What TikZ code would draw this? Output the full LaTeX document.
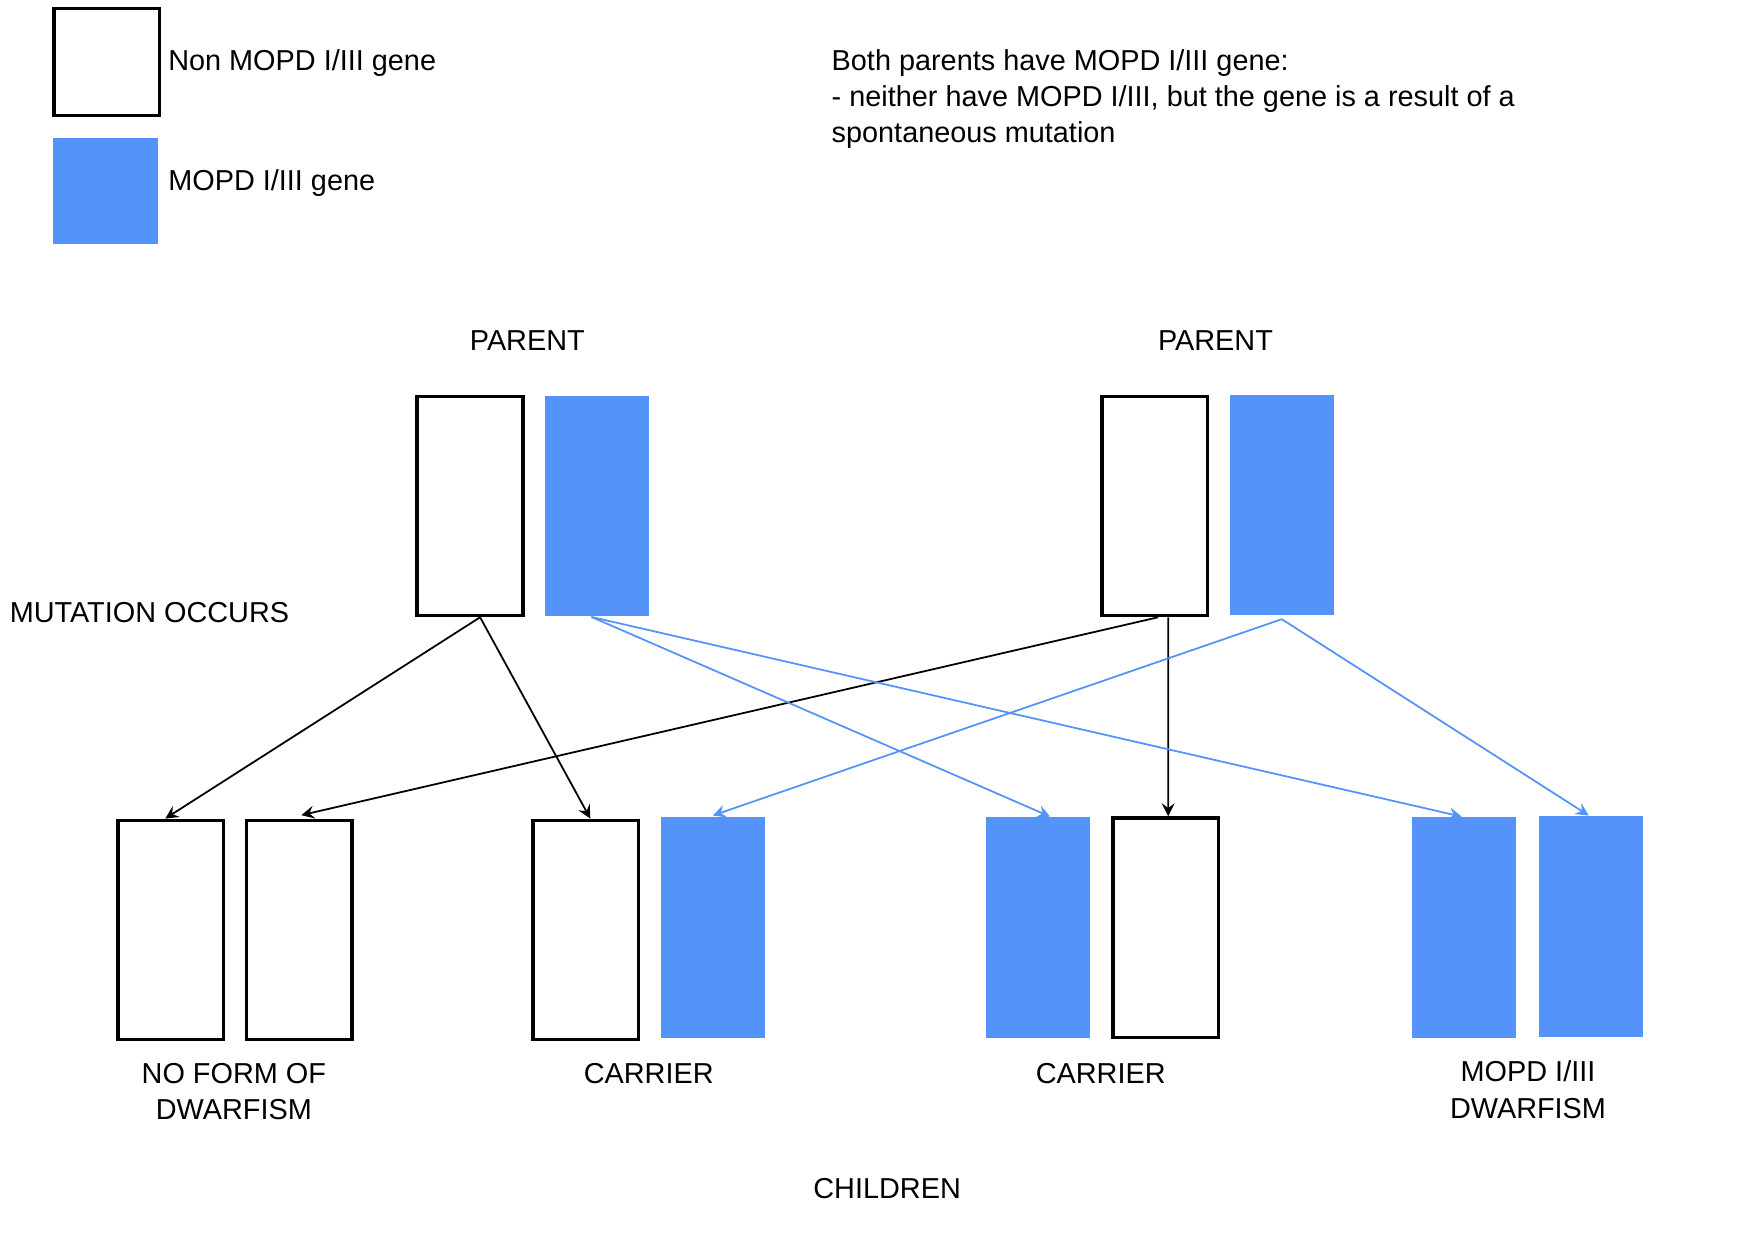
\documentclass[tikz,border=0pt]{standalone}
\usepackage{fontspec}
\setmainfont{Liberation Sans}
\definecolor{genblue}{RGB}{84,148,250}
\begin{document}
\begin{tikzpicture}[x=0.1mm,y=-0.1mm,font=\fontsize{7.3}{9.2}\selectfont,
    plain/.style={draw, line width=0.85pt, minimum width=9.4mm, minimum height=19.5mm, inner sep=0},
    gene/.style={fill=genblue, minimum width=9.3mm, minimum height=19.6mm, inner sep=0},
    txt/.style={inner sep=0, align=center},
    blk/.style={->, >=stealth, line width=0.45pt},
    blu/.style={->, >=stealth, line width=0.45pt, genblue}]
      \useasboundingbox (0,0) rectangle (1560,1102);
      % legend
      \node (lw) at (95,55) [plain, minimum height=9.5mm] {};
      \node (lb) at (94,170) [gene, minimum height=9.4mm] {};
      \node (lwt) at (149,56) [txt, anchor=west] {Non MOPD I/III gene};
      \node (lbt) at (149,163) [txt, anchor=west] {MOPD I/III gene};
      \node (note) at (739,88) [txt, anchor=west, align=left] {Both parents have MOPD I/III gene:\\- neither have MOPD I/III, but the gene is a result of a\\spontaneous mutation};
      % parents
      \node (t1) at (469,303) [txt] {PARENT};
      \node (t2) at (1081,303) [txt] {PARENT};
      \node (p1a) at (418,450) [plain] {};
      \node (p1b) at (531,450) [gene] {};
      \node (p2a) at (1027,450) [plain] {};
      \node (p2b) at (1140,449) [gene] {};
      \node (mut) at (8,545) [txt, anchor=west] {MUTATION OCCURS};
      % children
      \node (c1a) at (152,827) [plain] {};
      \node (c1b) at (266,827) [plain] {};
      \node (c2a) at (521,827) [plain] {};
      \node (c2b) at (634,825) [gene] {};
      \node (c3a) at (923,825) [gene] {};
      \node (c3b) at (1037,825) [plain] {};
      \node (c4a) at (1302,825) [gene] {};
      \node (c4b) at (1415,824) [gene] {};
      \node (n1) at (208,971) [txt] {NO FORM OF\\DWARFISM};
      \node (n2) at (577,955) [txt] {CARRIER};
      \node (n3) at (979,955) [txt] {CARRIER};
      \node (n4) at (1359,969) [txt] {MOPD I/III\\DWARFISM};
      \node (kids) at (789,1057) [txt] {CHILDREN};
      % inheritance
      \draw[blk] ([xshift=0.9mm]p1a.south) -- ([xshift=-0.5mm]c1a.north);
      \draw[blk] ([xshift=0.9mm]p1a.south) -- ([xshift=0.4mm]c2a.north);
      \draw[blk] ([xshift=0.3mm]p2a.south) -- ([xshift=0.2mm,yshift=0.3mm]c1b.north);
      \draw[blk] ([xshift=1.2mm]p2a.south) -- ([xshift=0.2mm]c3b.north);
      \draw[blu] ([xshift=-0.5mm]p1b.south) -- ([xshift=1.1mm]c3a.north);
      \draw[blu] ([xshift=-0.5mm]p1b.south) -- ([xshift=-0.2mm]c4a.north);
      \draw[blu] ([yshift=-0.3mm]p2b.south) -- ([yshift=0.1mm]c2b.north);
      \draw[blu] ([yshift=-0.3mm]p2b.south) -- ([xshift=-0.2mm]c4b.north);
\end{tikzpicture}
\end{document}
